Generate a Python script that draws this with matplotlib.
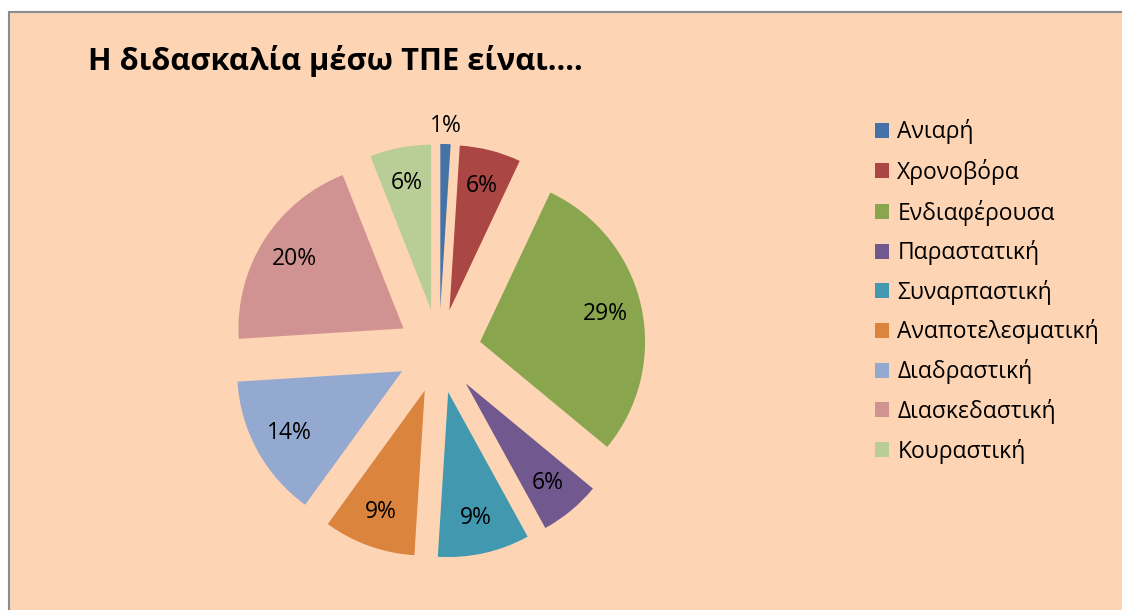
import matplotlib.pyplot as plt
from matplotlib.patches import Rectangle

labels = ['Ανιαρή', 'Χρονοβόρα', 'Ενδιαφέρουσα', 'Παραστατική', 'Συναρπαστική',
          'Αναποτελεσματική', 'Διαδραστική', 'Διασκεδαστική', 'Κουραστική']
values = [1, 6, 29, 6, 9, 9, 14, 20, 6]
colors = ['#4573A8', '#AA4643', '#89A54E', '#71588F', '#4198AF',
          '#DB843D', '#93A9CF', '#D19392', '#B9CD96']
title = 'Η διδασκαλία μέσω ΤΠΕ είναι....'

plt.rcParams['font.family'] = ['Open Sans', 'DejaVu Sans']
bg = '#FDD5B5'

fig = plt.figure(figsize=(11.22, 6.10), dpi=100)
fig.patch.set_facecolor('white')
fig.patches.append(Rectangle((8.5 / 1122, -0.01), 1.02, 1 - 11.5 / 610 + 0.01,
                             transform=fig.transFigure, facecolor=bg,
                             edgecolor='#8C8C8C', linewidth=1.5, zorder=-1))

ax = fig.add_axes([208 / 1122, 28 / 610, 462 / 1122, 462 / 610])
ax.set_facecolor('none')
wedges, texts, autotexts = ax.pie(values, colors=colors, startangle=90, counterclock=False,
                                  explode=[0.255] * len(values), autopct='%1.0f%%',
                                  pctdistance=0.78, textprops={'fontsize': 16.5, 'color': 'black'})
ax.set_xlim(-1.4, 1.4)
ax.set_ylim(-1.4, 1.4)
ax.set_aspect('equal')
ax.axis('off')

# small slice label sits outside the wedge
x, y = autotexts[0].get_position()
autotexts[0].set_position((x * 1.32, y * 1.32))

fig.text(88 / 1122, 1 - 61 / 610, title, fontsize=22.2, fontweight='bold',
         va='center', ha='left')

fig.legend(wedges, labels, loc='upper left', bbox_to_anchor=(866 / 1122, 1 - 110 / 610),
           frameon=False, fontsize=16.5, handlelength=0.62, handleheight=0.62,
           handletextpad=0.35, labelspacing=0.64, borderaxespad=0)

fig.savefig('out.png', dpi=100, facecolor=fig.get_facecolor())
